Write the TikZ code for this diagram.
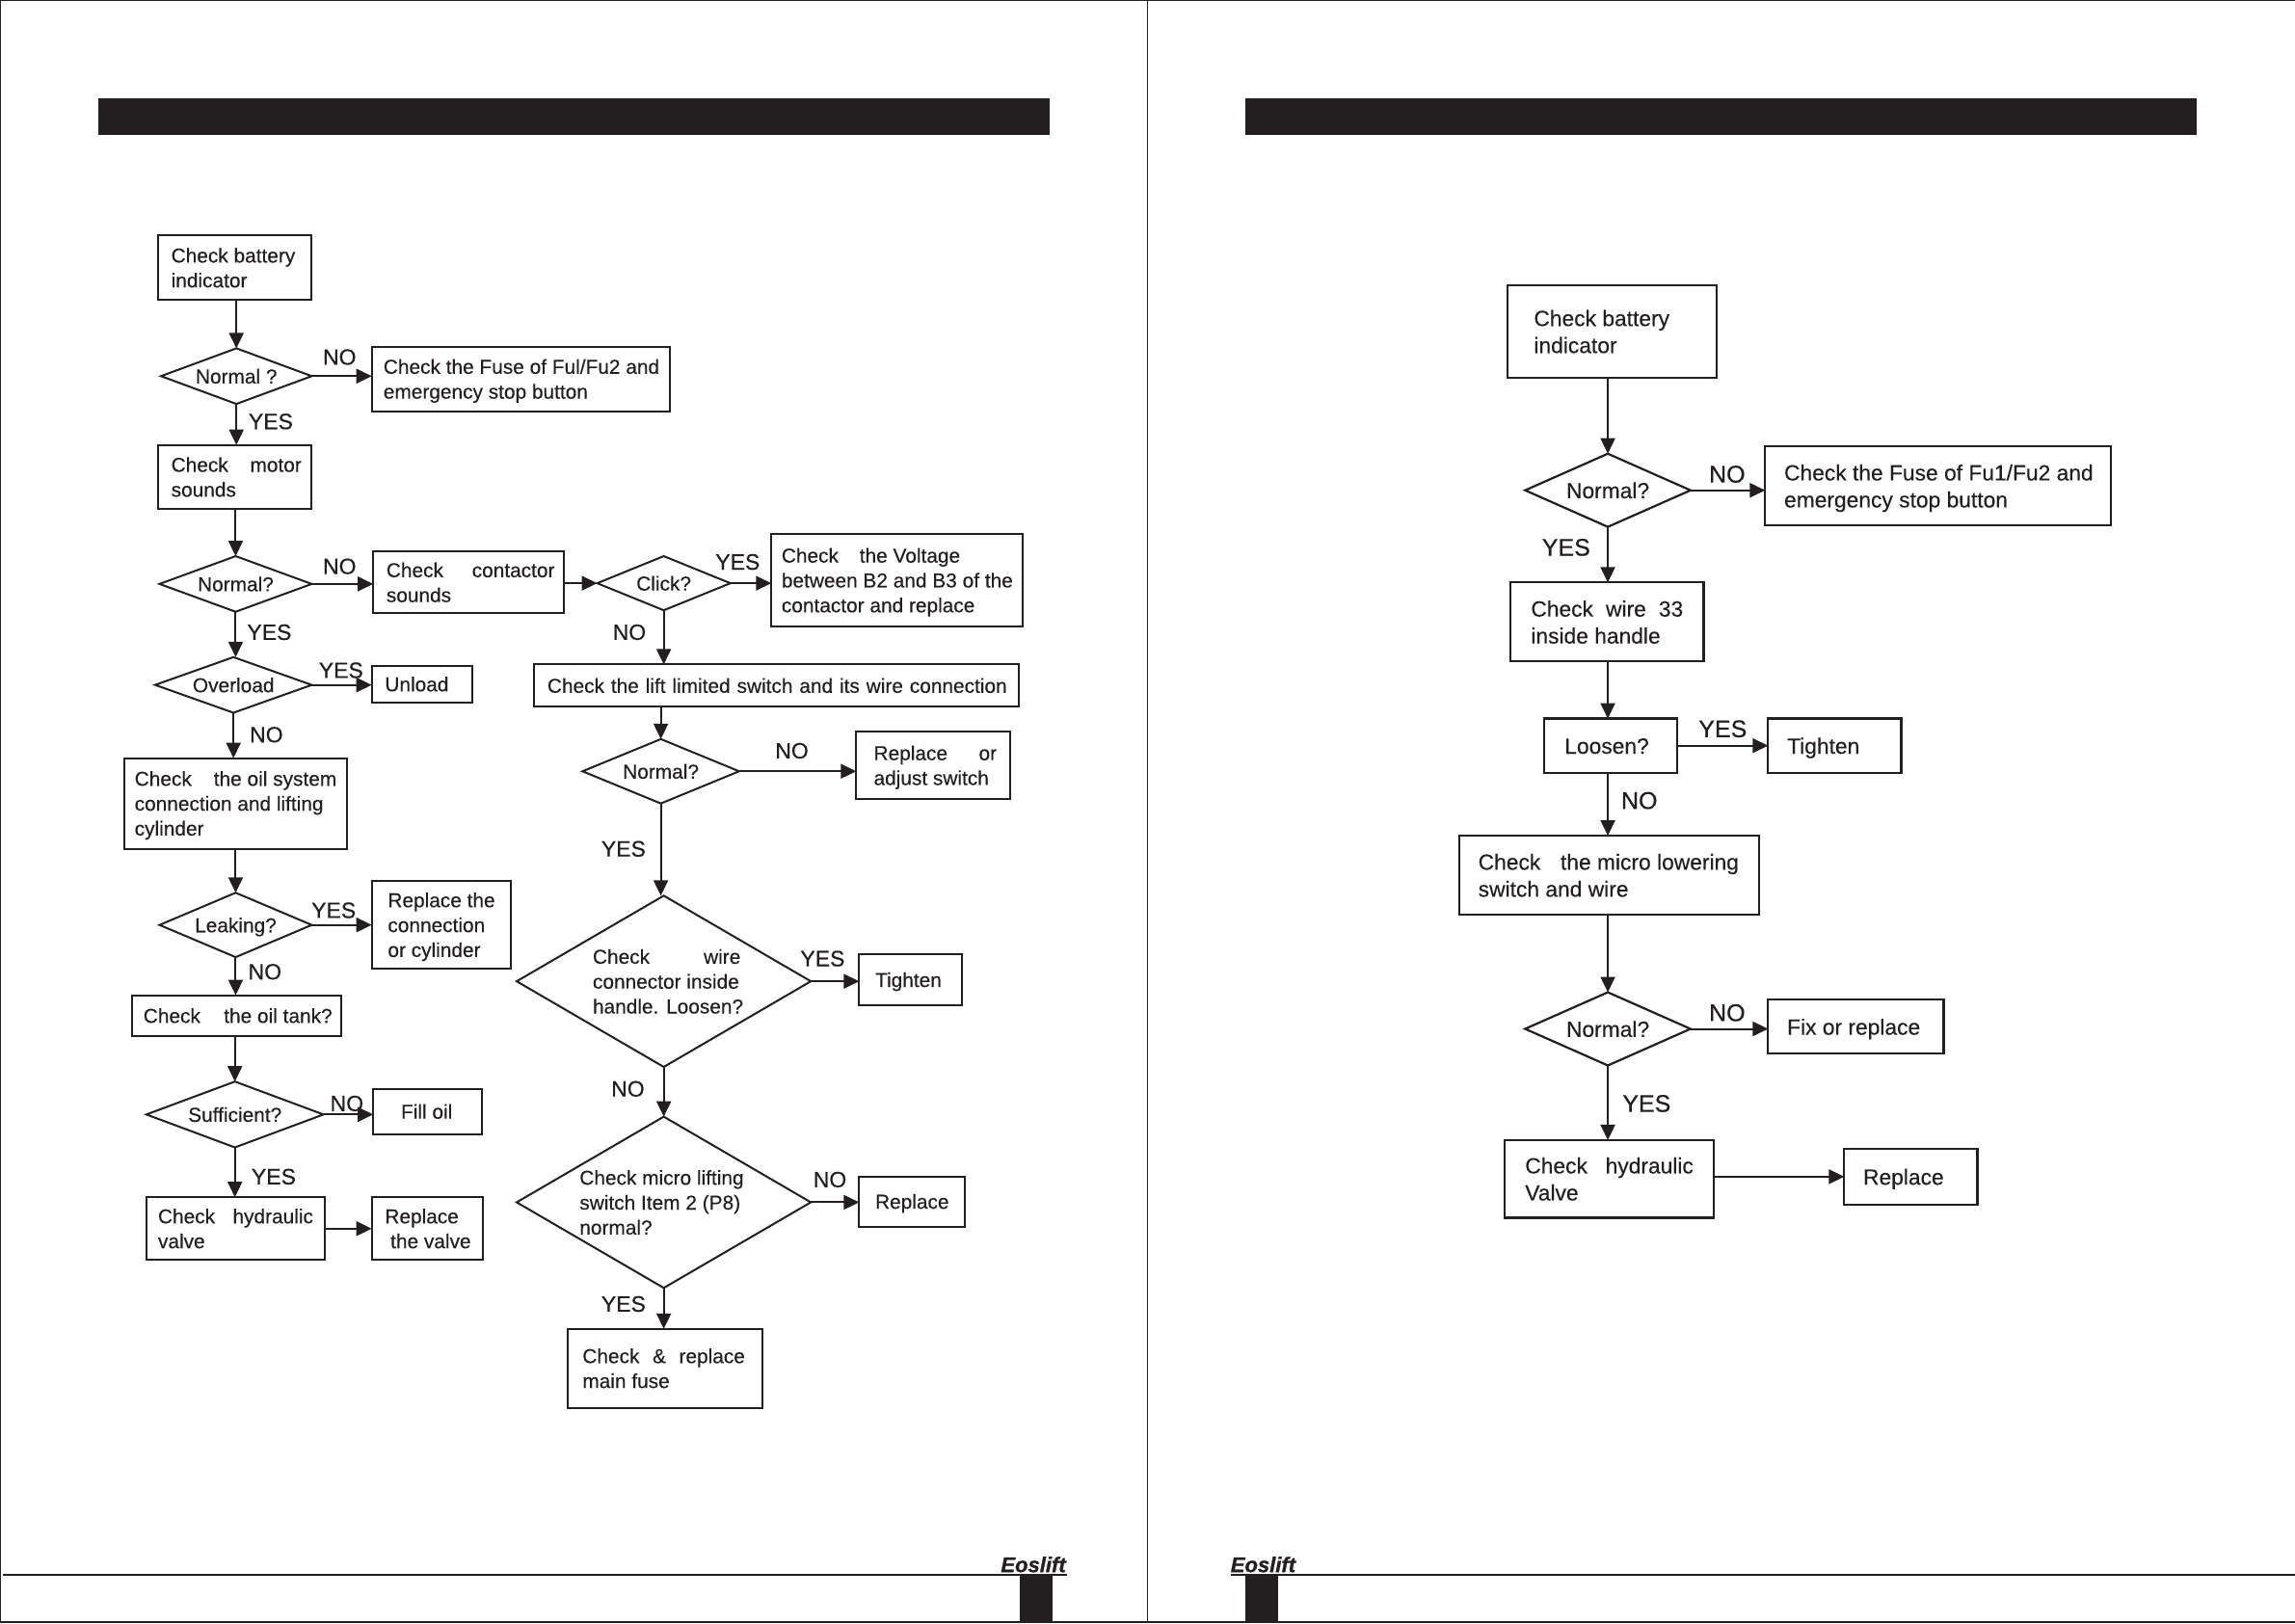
\documentclass[tikz,border=0pt]{standalone}
\usepackage{fontspec}
\setmainfont[FakeBold=0.25]{Liberation Sans}
\newfontfamily\labfont[FakeBold=0.5]{Liberation Sans}
\newfontfamily\logofont[FakeBold=1.2]{Liberation Sans Bold Italic}
\usetikzlibrary{shapes.geometric,arrows.meta}
\definecolor{ink}{HTML}{231F20}
\newdimen\U \U=1.5185pt
\tikzset{
  lbox/.style={draw=ink,line width=2pt,rectangle,inner sep=0pt,outer sep=0pt,text=ink,font=\fontsize{20.85}{25.8}\selectfont},
  rbox/.style={lbox,line width=2.2pt,font=\fontsize{22.8}{28}\selectfont},
  ldia/.style={draw=ink,line width=2pt,diamond,inner sep=0pt,outer sep=0pt,text=ink,font=\fontsize{20.85}{25.8}\selectfont},
  rdia/.style={ldia,line width=2.2pt,font=\fontsize{22.8}{28}\selectfont},
  arr/.style={draw=ink,line width=2pt,-{Triangle[length=16pt,width=15pt]}},
  lab/.style={inner sep=0pt,text=ink,font=\labfont\fontsize{23}{26}\selectfont},
  rlab/.style={lab,font=\labfont\fontsize{25}{28}\selectfont},
  bar/.style={fill=ink,draw=none},
  rule/.style={draw=ink,line width=1.5pt},
  logo/.style={inner sep=0pt,text=ink,font=\logofont\fontsize{22}{24}\selectfont}
}
\newcommand\bx[8][lbox]{%
  \pgfmathsetmacro\bw{(#5-#3)*1.5185}\pgfmathsetmacro\bh{(#6-#4)*1.5185}%
  \pgfmathsetmacro\bcx{(#3+#5)/2}\pgfmathsetmacro\bcy{(#4+#6)/2}%
  \node[#1,minimum width=\bw pt,minimum height=\bh pt] (#2) at (\bcx,\bcy)
    {\makebox[\bw pt][l]{\hspace*{#7\U}\smash{\raisebox{\dimexpr-0.25em-2.2pt}{\begin{tabular}{@{}l@{}}#8\end{tabular}}}}};}
\newcommand\dm[7][ldia]{%
  \pgfmathsetmacro\bw{(#5-#3)*1.5185}\pgfmathsetmacro\bh{(#6-#4)*1.5185}%
  \pgfmathsetmacro\bcx{(#3+#5)/2}\pgfmathsetmacro\bcy{(#4+#6)/2}%
  \pgfmathsetmacro\ba{(#5-#3)/(#6-#4)}%
  \node[#1,aspect=\ba,minimum width=\bw pt,minimum height=\bh pt] (#2) at (\bcx,\bcy)
    {\smash{\makebox[0pt]{\raisebox{-0.5\height}{#7}}}};}
\newcommand\J[2]{\makebox[#1\U][s]{#2}}
\newcommand\ml[2]{\parbox[b]{#1\U}{\raggedright #2}}
\begin{document}
\begin{tikzpicture}[x=1.5185pt,y=-1.5185pt]
\useasboundingbox (0,0) rectangle (1568,1109);
% page furniture
\fill[white] (0,0) rectangle (1568,1109);
\draw[rule] (0,0.4) -- (1568,0.4);
\draw[rule] (0.4,0) -- (0.4,1109);
\draw[rule] (784,0) -- (784,1109);
\draw[rule] (0,1108.4) -- (1568,1108.4);
\draw[rule] (2,1076) -- (729,1076);
\draw[rule] (841,1076) -- (1568,1076);
\fill[bar] (67,67) rectangle (717,92);
\fill[bar] (851,67) rectangle (1501,92);
\fill[bar] (697,1076) rectangle (719,1108);
\fill[bar] (851,1076) rectangle (873,1108);
\node[logo] (logoL) at (706,1069) {Eoslift};
\node[logo] (logoR) at (863,1069) {Eoslift};
% left page, first column
\bx{a}{108}{161}{213}{205}{9}{Check battery\\indicator}
\dm{d1}{110}{238}{213}{276}{Normal ?}
\bx{b}{254}{237}{458}{281}{8}{Check the Fuse of Ful/Fu2 and\\emergency stop button}
\bx{c}{108}{304}{213}{348}{9}{\J{89}{Check\hfill motor}\\sounds}
\dm{d2}{109}{380}{213}{418}{Normal?}
\bx{e}{255}{377}{385}{419}{9}{\J{115}{Check\hfill contactor}\\sounds}
\dm{d3}{408}{380}{499}{417}{Click?}
\bx{f}{527}{365}{699}{428}{7}{\J{122}{Check\hfill\ the Voltage}\\between B2 and B3 of the\\contactor and replace}
\dm{d4}{106}{449}{213}{487}{Overload}
\bx{h}{254}{455}{323}{480}{9}{Unload}
\bx{j}{85}{518}{237}{580}{7}{\J{138}{Check\hfill\ the oil system}\\connection and lifting\\cylinder}
\dm{d6}{109}{610}{213}{654}{Leaking?}
\bx{k}{254}{602}{349}{662}{11}{Replace the\\connection\\or cylinder}
\bx{l}{90}{680}{233}{708}{8}{\J{129}{Check\hfill\ the oil tank?}}
\dm{d8}{100}{739}{221}{784}{Sufficient?}
\bx{n}{255}{744}{329}{775}{19}{Fill oil}
\bx{p}{100}{818}{222}{861}{8}{\J{106}{Check\hfill hydraulic}\\valve}
\bx{q}{254}{818}{330}{861}{9}{Replace\\\ the valve}
% left page, second column
\bx{g}{365}{454}{696}{483}{9}{\J{314}{Check the lift limited switch and its wire connection}}
\dm{d5}{398}{505}{505}{549}{Normal?}
\bx{i}{585}{500}{690}{546}{12}{\J{84}{Replace\hfill or}\\adjust switch}
\dm{d7}{353}{612}{554}{729}{\hspace*{8\U}\ml{105}{\J{101}{Check\hfill wire}\\connector inside\\handle. Loosen?}}
\bx{m}{587}{652}{657}{687}{11}{Tighten}
\dm{d9}{353}{763}{554}{880}{\hspace*{4\U}\ml{119}{Check micro lifting\\switch Item 2 (P8)\\normal?}}
\bx{o}{587}{804}{659}{838}{11}{Replace}
\bx{r}{388}{908}{521}{962}{10}{\J{111}{Check\hfill \&\hfill replace}\\main fuse}
% left connectors
\draw[arr] (d1.north |- a.south) -- (d1.north);
\draw[arr] (d1.east) -- (d1.east -| b.west);
\draw[arr] (d1.south) -- (d1.south |- c.north);
\draw[arr] (d2.north |- c.south) -- (d2.north);
\draw[arr] (d2.east) -- (d2.east -| e.west);
\draw[arr] (e.east |- d3.west) -- (d3.west);
\draw[arr] (d3.east) -- (d3.east -| f.west);
\draw[arr] (d3.south) -- (d3.south |- g.north);
\draw[arr] (d2.south) -- (d2.south |- d4.north);
\draw[arr] (d4.east) -- (d4.east -| h.west);
\draw[arr] (d4.south) -- (d4.south |- j.north);
\draw[arr] (d6.north |- j.south) -- (d6.north);
\draw[arr] (d6.east) -- (d6.east -| k.west);
\draw[arr] (d6.south) -- (d6.south |- l.north);
\draw[arr] (d8.north |- l.south) -- (d8.north);
\draw[arr] (d8.east) -- (d8.east -| n.west);
\draw[arr] (d8.south) -- (d8.south |- p.north);
\draw[arr] (p.east) -- (q.west);
\draw[arr] (d5.north |- g.south) -- (d5.north);
\draw[arr] (d5.east) -- (d5.east -| i.west);
\draw[arr] (d5.south) -- (d5.south |- d7.north);
\draw[arr] (d7.east) -- (d7.east -| m.west);
\draw[arr] (d7.south) -- (d9.north);
\draw[arr] (d9.east) -- (d9.east -| o.west);
\draw[arr] (d9.south) -- (d9.south |- r.north);
% left labels
\node[lab] (n1) at (232,244) {NO};
\node[lab] (n2) at (185,288) {YES};
\node[lab] (n3) at (232,387) {NO};
\node[lab] (n4) at (184,432) {YES};
\node[lab] (n5) at (504,384) {YES};
\node[lab] (n6) at (430,432) {NO};
\node[lab] (n7) at (233,458) {YES};
\node[lab] (n8) at (182,502) {NO};
\node[lab] (n9) at (541,513) {NO};
\node[lab] (n10) at (426,580) {YES};
\node[lab] (n11) at (228,622) {YES};
\node[lab] (n12) at (181,664) {NO};
\node[lab] (n13) at (562,655) {YES};
\node[lab] (n14) at (429,744) {NO};
\node[lab] (n15) at (237,754) {NO};
\node[lab] (n16) at (187,804) {YES};
\node[lab] (n17) at (567,806) {NO};
\node[lab] (n18) at (426,891) {YES};
% right page
\bx[rbox]{ra}{1030}{195}{1173}{258}{18}{Check battery\\indicator}
\dm[rdia]{rd1}{1042}{310}{1155}{360}{Normal?}
\bx[rbox]{rb}{1206}{305}{1442}{359}{13}{Check the Fuse of Fu1/Fu2 and\\emergency stop button}
\bx[rbox]{rc}{1032}{398}{1164}{452}{14}{\J{104}{Check\hfill wire\hfill 33}\\inside handle}
\bx[rbox]{rd}{1055}{491}{1146}{528}{14}{Loosen?}
\bx[rbox]{re}{1208}{491}{1299}{528}{13}{Tighten}
\bx[rbox]{rf}{997}{571}{1202}{625}{13}{\J{178}{Check\hfill the micro lowering}\\switch and wire}
\dm[rdia]{rd2}{1042}{678}{1155}{728}{Normal?}
\bx[rbox]{rg}{1208}{683}{1328}{720}{13}{Fix or replace}
\bx[rbox]{rh}{1028}{779}{1171}{832}{14}{\J{115}{Check\hfill hydraulic}\\Valve}
\bx[rbox]{ri}{1260}{785}{1351}{823}{13}{Replace}
\draw[arr] (rd1.north |- ra.south) -- (rd1.north);
\draw[arr] (rd1.east) -- (rd1.east -| rb.west);
\draw[arr] (rd1.south) -- (rd1.south |- rc.north);
\draw[arr] (rd1.south |- rc.south) -- (rd1.south |- rd.north);
\draw[arr] (rd.east) -- (re.west);
\draw[arr] (rd1.south |- rd.south) -- (rd1.south |- rf.north);
\draw[arr] (rd2.north |- rf.south) -- (rd2.north);
\draw[arr] (rd2.east) -- (rd2.east -| rg.west);
\draw[arr] (rd2.south) -- (rd2.south |- rh.north);
\draw[arr] (rh.east |- ri.west) -- (ri.west);
\node[rlab] (m1) at (1180,324) {NO};
\node[rlab] (m2) at (1070,374) {YES};
\node[rlab] (m3) at (1177,498) {YES};
\node[rlab] (m4) at (1120,547) {NO};
\node[rlab] (m5) at (1180,692) {NO};
\node[rlab] (m6) at (1125,754) {YES};
\end{tikzpicture}
\end{document}
